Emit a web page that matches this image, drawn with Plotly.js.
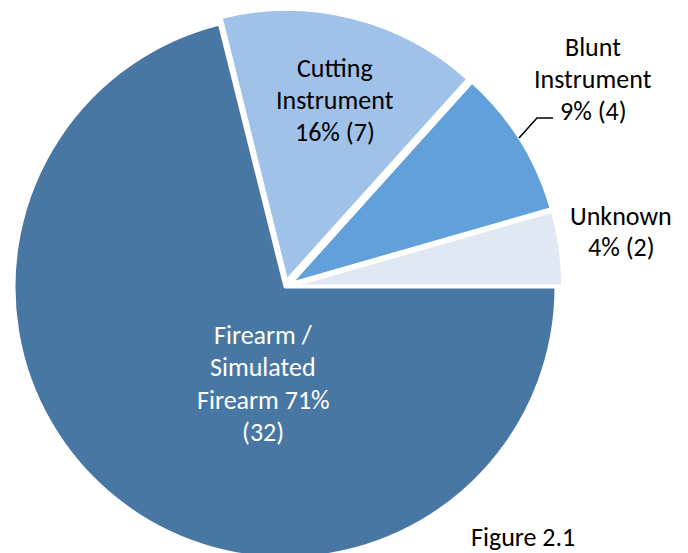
<!DOCTYPE html>
<html>
<head>
<meta charset="utf-8">
<script src="https://cdn.plot.ly/plotly-3.0.1.min.js"></script>
<style>
html, body { margin: 0; padding: 0; overflow: hidden; background: #fff; }
#chart { width: 688px; height: 580px; }
</style>
</head>
<body>
<div id="chart"></div>
<script>
// Data
const categories = ["Unknown", "Blunt Instrument", "Cutting Instrument", "Firearm / Simulated Firearm"];
const counts = [2, 4, 7, 32];
const sliceColors = ["#DFE8F3", "#62A0DB", "#A0C2E9", "#4977A4"];
const pulls = [0.025, 0.025, 0.025, 0];
const figureCaption = "Figure 2.1";

const total = counts.reduce((a, b) => a + b, 0);
const pct = counts.map(v => Math.round(100 * v / total));

const W = 688, H = 580;
const fontFam = "Carlito, Lato, 'Open Sans', sans-serif";
const FS = 26;

function lines(textLines, px, ys, color) {
  return textLines.map((t, i) => ({
    text: t, xref: "paper", yref: "paper",
    x: px / W, y: 1 - ys[i] / H, xanchor: "center", yanchor: "middle",
    showarrow: false, align: "center",
    font: { family: fontFam, size: FS, color: color }
  }));
}

const annotations = [].concat(
  lines(["Unknown", pct[0] + "% (" + counts[0] + ")"], 621, [216, 247], "#000"),
  lines(["Blunt", "Instrument", pct[1] + "% (" + counts[1] + ")"], 593, [47, 79, 111], "#000"),
  lines(["Cutting", "Instrument", pct[2] + "% (" + counts[2] + ")"], 335, [68, 100, 132], "#000"),
  lines(["Firearm /", "Simulated", "Firearm " + pct[3] + "%", "(" + counts[3] + ")"], 263, [335, 367, 400, 432], "#fff"),
  lines([figureCaption], 523, [537], "#000")
);

const px = (x) => x / W, py = (y) => 1 - y / H;
const shapes = [{
  type: "path", xref: "paper", yref: "paper",
  path: "M " + px(519) + " " + py(138) + " L " + px(537) + " " + py(118) + " L " + px(553) + " " + py(118),
  line: { color: "#000", width: 1.5 }
}];

const R = 271, cx = 285, cy = 287;
const S = 2 * R * (1 + Math.max(...pulls));
// counterclockwise pies in Plotly start the first slice one slice-width past `rotation`
const firstSliceDeg = 360 * counts[0] / total;
const trace = {
  type: "pie",
  labels: categories,
  values: counts,
  sort: false,
  direction: "counterclockwise",
  rotation: 90 - firstSliceDeg,
  pull: pulls,
  marker: { colors: sliceColors, line: { color: "#fff", width: 3 } },
  textinfo: "none",
  hoverinfo: "label+value+percent",
  domain: {
    x: [(cx - S / 2) / W, (cx + S / 2) / W],
    y: [1 - (cy + S / 2) / H, 1 - (cy - S / 2) / H]
  }
};

Plotly.newPlot("chart", [trace], {
  width: W, height: H,
  margin: { l: 0, r: 0, t: 0, b: 0 },
  showlegend: false,
  paper_bgcolor: "#fff",
  annotations: annotations,
  shapes: shapes
}, { displayModeBar: false, staticPlot: true });
</script>
</body>
</html>
